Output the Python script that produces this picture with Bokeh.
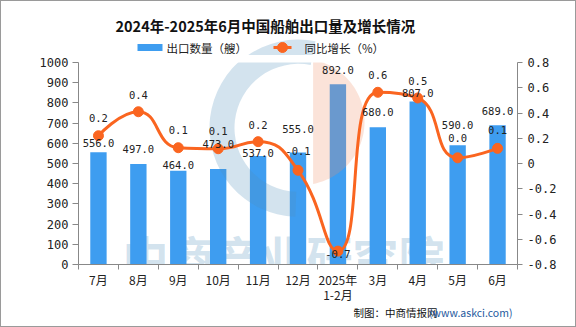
import math
import numpy as np
from bokeh.plotting import figure
from bokeh.layouts import column
from bokeh.models import Range1d, LinearAxis, FixedTicker, Label, ColumnDataSource
from bokeh.core.properties import value
from bokeh.embed import file_html
from bokeh.resources import INLINE

# ---------------- data ----------------
categories = ["7月", "8月", "9月", "10月", "11月", "12月", "2025年\n1-2月", "3月", "4月", "5月", "6月"]
exports = [556, 497, 464, 473, 537, 555, 892, 680, 807, 590, 689]          # 出口数量（艘）
growth = [0.22, 0.41, 0.125, 0.117, 0.173, -0.054, -0.694, 0.564, 0.519, 0.045, 0.12]  # 同比增长
left_ticks = [0, 100, 200, 300, 400, 500, 600, 700, 800, 900, 1000]
right_ticks = [-0.8, -0.6, -0.4, -0.2, 0.0, 0.2, 0.4, 0.6, 0.8]
right_tick_labels = ["-0.8", "-0.6", "-0.4", "-0.2", "0", "0.2", "0.4", "0.6", "0.8"]
title_text = "2024年-2025年6月中国船舶出口量及增长情况"
legend_labels = ["出口数量（艘）", "同比增长（%）"]
credit_text = "制图：中商情报网"
credit_url = "(www.askci.com)"

# label nudges (screen px) to mimic the original label layout
bar_label_dy = [-9, -15, -6, -25, -3, -23, -14, -15, -8, -20, -14]
line_label_dy = [-18, -17, -18, -18, -17, -19, 3, -17, -17, -20, -18]

BLUE = "#3e9df0"
ORANGE = "#fa6520"
MONO = "DejaVu Sans Mono"
CJK = "Noto Sans CJK SC"
WM_BLUE = "#4f8fbb"
WM_PINK = "#ef8f67"

# ---------------- geometry (canvas px) ----------------
W_CANVAS, H_CANVAS = 576, 327
BD = 1                                   # outer grey border width
W_IN = W_CANVAS - 2 * BD
HEAD_END, FOOT_START = 55, 305           # canvas y where header ends / footer starts
H_HEAD = HEAD_END - BD
H_FOOT = H_CANVAS - BD - FOOT_START
H_MAIN = FOOT_START - HEAD_END
L, R, T, B = 78, 517, 62, 266
FW, FH = R - L, B - T
n = len(categories)
RING_C = (298, 128)
PINK_C, PINK_R, PINK_CUT = (300, 122), 64, 312


def dx(px):
    return -0.5 + (px - L) / FW * n


def dy(py):
    return (B - py) / FH * 1000


def blank_fig(h):
    # the column aligns frames with the main chart, so the frame spans canvas px L..R
    f = figure(width=W_IN, height=h, x_range=Range1d(L, R), y_range=Range1d(0, h),
               output_backend="svg", toolbar_location=None, x_axis_location=None, y_axis_location=None,
               min_border=0, min_border_left=0, min_border_right=0, min_border_top=0, min_border_bottom=0)
    f.xgrid.visible = False
    f.ygrid.visible = False
    f.outline_line_color = None
    f.background_fill_color = "white"
    f.border_fill_color = "white"
    return f


def logo(f, fx, fy):
    f.annular_wedge(x=[fx(RING_C[0])], y=[fy(RING_C[1])], inner_radius=64, outer_radius=89,
                    inner_radius_units="screen", outer_radius_units="screen",
                    start_angle=math.radians(79), end_angle=math.radians(268),
                    fill_color=WM_BLUE, fill_alpha=0.25, line_color=None)
    theta = np.linspace(-math.pi / 2, math.pi / 2, 80)
    px_pts = PINK_C[0] + PINK_R * np.cos(theta)
    py_pts = PINK_C[1] - PINK_R * np.sin(theta)
    keep = px_pts >= PINK_CUT
    f.patch(x=[fx(v) for v in px_pts[keep]], y=[fy(v) for v in py_pts[keep]],
            fill_color=WM_PINK, fill_alpha=0.25, line_color=None)


# ---------------- header ----------------
head = blank_fig(H_HEAD)
hx = lambda px: px
hy = lambda py: H_HEAD - (py - BD)
logo(head, hx, hy)
head.text(x=[hx(115)], y=[hy(25)], text=[title_text], text_align="left", text_baseline="middle",
          text_font=value(CJK), text_font_style="bold", text_font_size="14.5px", text_color="#111111")
LEG_Y = 47
head.quad(left=[hx(137)], right=[hx(162)], bottom=[hy(LEG_Y + 3.5)], top=[hy(LEG_Y - 3.5)],
          fill_color=BLUE, line_color=None)
head.line(x=[hx(273), hx(291)], y=[hy(LEG_Y), hy(LEG_Y)], line_color=ORANGE, line_width=3)
head.scatter(x=[hx(282)], y=[hy(LEG_Y)], size=10, marker="circle", fill_color=ORANGE, line_color=ORANGE)
head.text(x=[hx(166), hx(304)], y=[hy(LEG_Y), hy(LEG_Y)], text=legend_labels, text_align="left",
          text_baseline="middle", text_font=value(CJK), text_font_size="11.5px", text_color="#222222")

# ---------------- main chart ----------------
p = figure(width=W_IN, height=H_MAIN, x_range=Range1d(-0.5, n - 0.5), y_range=Range1d(0, 1000),
           output_backend="svg", toolbar_location=None,
           min_border_left=L - BD, min_border_right=(W_CANVAS - BD) - R, min_border_top=T - HEAD_END,
           min_border_bottom=FOOT_START - B)
p.xgrid.visible = False
p.ygrid.visible = False
p.outline_line_color = None
p.background_fill_color = "white"
p.border_fill_color = "white"
p.extra_y_ranges = {"pct": Range1d(-0.8, 0.8)}

xa = p.xaxis[0]
xa.ticker = FixedTicker(ticks=list(range(n)), minor_ticks=[i - 0.5 for i in range(n + 1)])
xa.major_label_overrides = {i: c for i, c in enumerate(categories)}
xa.major_tick_out = 0
xa.major_tick_in = 0
xa.minor_tick_out = 5
xa.minor_tick_in = 0
xa.minor_tick_line_color = "#888888"
xa.axis_line_color = "#888888"
xa.major_label_text_font = CJK
xa.major_label_text_font_size = "12px"
xa.major_label_text_color = "#222222"
xa.major_label_text_line_height = 0.9
xa.major_label_standoff = 1

ya = p.yaxis[0]
ya.ticker = FixedTicker(ticks=left_ticks)
ya.minor_tick_line_color = None
ya.major_tick_out = 6
ya.major_tick_in = 0
ya.major_tick_line_color = "#888888"
ya.axis_line_color = "#888888"
ya.major_label_text_font = MONO
ya.major_label_text_font_size = "12px"
ya.major_label_text_color = "#222222"
ya.major_label_standoff = 4

ra = LinearAxis(y_range_name="pct", ticker=FixedTicker(ticks=right_ticks))
ra.major_label_overrides = {t: s for t, s in zip(right_ticks, right_tick_labels)}
ra.minor_tick_line_color = None
ra.major_tick_out = 5
ra.major_tick_in = 0
ra.major_tick_line_color = "#888888"
ra.axis_line_color = "#888888"
ra.major_label_text_font = MONO
ra.major_label_text_font_size = "12px"
ra.major_label_text_color = "#222222"
ra.major_label_standoff = 5
p.add_layout(ra, "right")

wm = Label(x=dx(283), y=dy(256), text="中商产业研究院", text_align="center", text_baseline="middle",
           text_font=CJK, text_font_style="bold", text_font_size="46px",
           text_color=WM_BLUE, text_alpha=0.25, level="underlay")
p.add_layout(wm)

xs = list(range(n))
bar_src = ColumnDataSource(dict(x=xs, top=exports,
                                lab=[f"{v:.1f}" for v in exports], dy=bar_label_dy))
bars = p.vbar(x="x", top="top", width=0.41, source=bar_src, fill_color=BLUE, line_color=None)

logo(p, dx, dy)


def smooth_segments(px, py, smooth=0.5):
    segs = []
    cpx0, cpy0 = px[0], py[0]
    prevX, prevY = px[0], py[0]
    m = len(px)
    for i in range(1, m):
        x, y = px[i], py[i]
        nextCpx0 = nextCpy0 = None
        if i == m - 1:
            cpx1, cpy1 = x, y
        else:
            nextX, nextY = px[i + 1], py[i + 1]
            vx, vy = nextX - prevX, nextY - prevY
            lp = math.hypot(x - prevX, y - prevY)
            ln = math.hypot(nextX - x, nextY - y)
            r = ln / (ln + lp)
            nextCpx0 = x + vx * smooth * r
            nextCpy0 = y + vy * smooth * r
            nextCpx0 = max(min(nextCpx0, max(nextX, x)), min(nextX, x))
            nextCpy0 = max(min(nextCpy0, max(nextY, y)), min(nextY, y))
            vx, vy = nextCpx0 - x, nextCpy0 - y
            cpx1 = x - vx * lp / ln
            cpy1 = y - vy * lp / ln
            cpx1 = max(min(cpx1, max(prevX, x)), min(prevX, x))
            cpy1 = max(min(cpy1, max(prevY, y)), min(prevY, y))
            vx, vy = x - cpx1, y - cpy1
            nextCpx0 = x + vx * ln / lp
            nextCpy0 = y + vy * ln / lp
        segs.append((prevX, prevY, cpx0, cpy0, cpx1, cpy1, x, y))
        cpx0, cpy0 = nextCpx0, nextCpy0
        prevX, prevY = x, y
    return segs


sx_scale = FW / n
sy_scale = FH / 1.6
segs = smooth_segments([i * sx_scale for i in xs], [g * sy_scale for g in growth])
keys = ["x0", "y0", "cx0", "cy0", "cx1", "cy1", "x1", "y1"]
bz = {k: [] for k in keys}
for s in segs:
    for j, k in enumerate(keys):
        bz[k].append(s[j] / (sx_scale if j % 2 == 0 else sy_scale))
p.bezier(x0="x0", y0="y0", x1="x1", y1="y1", cx0="cx0", cy0="cy0", cx1="cx1", cy1="cy1",
         source=ColumnDataSource(bz), y_range_name="pct", line_color=ORANGE, line_width=3)

line_src = ColumnDataSource(dict(x=xs, y=growth, lab=[f"{v:.1f}" for v in growth], dy=line_label_dy))
p.scatter(x="x", y="y", source=line_src, y_range_name="pct", size=10, marker="circle",
          fill_color=ORANGE, line_color=ORANGE)

p.text(x="x", y="top", text="lab", source=bar_src, y_offset="dy", text_align="center",
       text_baseline="middle", text_font=value(MONO), text_font_size="10.5px", text_color="#222222")
p.text(x="x", y="y", text="lab", source=line_src, y_range_name="pct", y_offset="dy", text_align="center",
       text_baseline="middle", text_font=value(MONO), text_font_size="10.5px", text_color="#222222")

# ---------------- footer ----------------
foot = blank_fig(H_FOOT)
fx = lambda px: px
fyy = lambda py: H_FOOT - (py - FOOT_START)
foot.text(x=[fx(437)], y=[fyy(312)], text=[credit_text], text_align="right", text_baseline="middle",
          text_font=value(CJK), text_font_size="10.5px", text_color="#111111")
foot.text(x=[fx(512)], y=[fyy(312)], text=[credit_url], text_align="right", text_baseline="middle",
          text_font=value(CJK), text_font_size="10.5px", text_color="#1f5a9e")

layout = column(head, p, foot, spacing=0,
                styles={"border": f"{BD}px solid #9a9a9a", "box-sizing": "content-box"})
open("out.html", "w").write(file_html(layout, INLINE))
